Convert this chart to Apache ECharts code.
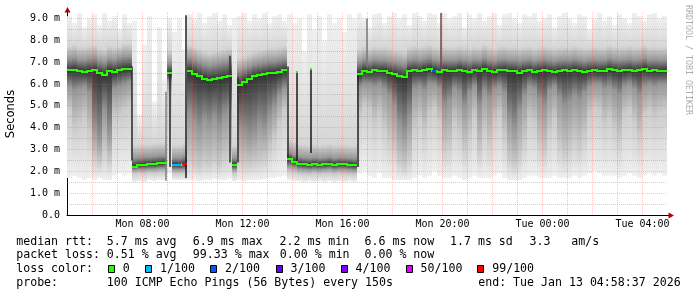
<!DOCTYPE html>
<html><head><meta charset="utf-8">
<script src="https://cdn.jsdelivr.net/npm/echarts@6/dist/echarts.min.js"></script>
<style>html,body{margin:0;padding:0;background:#fff}#c{width:697px;height:297px}</style>
</head><body><div id="c"></div>
<script>
// ---- axis / time ----
const X0 = 4.98;          // hours since Mon 00:00 at left edge (04:58)
const STEP = 0.2;         // hours per sample
const X1 = X0 + 24;
const Y_MAX = 9.3;
const xTickValues = [8, 12, 16, 20, 24, 28];
const xTickLabels = ['Mon 08:00', 'Mon 12:00', 'Mon 16:00', 'Mon 20:00', 'Tue 00:00', 'Tue 04:00'];
const yTickValues = [0, 1, 2, 3, 4, 5, 6, 7, 8, 9];
const yTickLabels = ['0.0', '1.0 m', '2.0 m', '3.0 m', '4.0 m', '5.0 m', '6.0 m', '7.0 m', '8.0 m', '9.0 m'];
const gridHours = [6, 7, 8, 9, 10, 11, 12, 13, 14, 15, 16, 17, 18, 19, 20, 21, 22, 23, 24, 25, 26, 27, 28];
const gridValues = [0.5, 1, 1.5, 2, 2.5, 3, 3.5, 4, 4.5, 5, 5.5, 6, 6.5, 7, 7.5, 8, 8.5, 9];

// ---- median rtt (ms), one value per 12-minute sample ----
const median = [
  6.62, 6.65, 6.6, 6.55, 6.6, 6.62, 6.5, 6.42, 6.6, 6.55, 6.62, 6.68, 6.7,
  2.22, 2.28, 2.3, 2.32, 2.34, 2.36, 2.38,
  6.5,
  2.3, 2.28, 2.32,
  6.6, 6.45, 6.35, 6.25, 6.2, 6.22, 6.28, 6.3, 6.35,
  2.3,
  5.95, 6.1, 6.25, 6.35, 6.4, 6.45, 6.5, 6.5, 6.55, 6.62,
  2.55, 2.45, 2.35, 2.32, 2.3, 2.33, 2.3, 2.32, 2.35, 2.3, 2.33, 2.32, 2.3, 2.28,
  6.45, 6.6, 6.55, 6.62, 6.58, 6.6, 6.52, 6.45, 6.38, 6.32,
  6.6, 6.62, 6.58, 6.65, 6.7, 6.6, 6.55, 6.62, 6.58, 6.6,
  6.66, 6.6, 6.55, 6.62, 6.6, 6.68, 6.6, 6.55, 6.62, 6.65,
  6.6, 6.58, 6.52, 6.6, 6.62, 6.55, 6.6, 6.64, 6.58, 6.55,
  6.6, 6.62, 6.6, 6.65, 6.6, 6.55, 6.6, 6.62, 6.58, 6.6,
  6.68, 6.62, 6.58, 6.62, 6.65, 6.6, 6.62, 6.7, 6.6, 6.62,
  6.58, 6.6
];
// smoke: ping distribution per sample (lowest, 10%, 25%, 75%, highest)
const p75 = [
  7.15, 7.2, 7.1, 7.1, 7.15, 7.2, 7.05, 7.0, 7.15, 7.1, 7.2, 7.25, 7.25,
  2.6, 2.62, 2.65, 2.65, 2.68, 2.7, 2.7,
  6.95,
  2.6, 2.6, 2.65,
  7.2, 7.1, 7.0, 6.9, 6.85, 6.9, 6.95, 7.0, 7.05,
  2.6,
  6.6, 6.7, 6.8, 6.9, 6.95, 7.0, 7.05, 7.05, 7.1, 7.15,
  2.85, 2.75, 2.65, 2.62, 2.6, 2.63, 2.6, 2.62, 2.65, 2.6, 2.63, 2.62, 2.6, 2.58,
  7.0, 7.1, 7.05, 7.12, 7.1, 7.1, 7.05, 7.0, 6.95, 6.9,
  7.1, 7.15, 7.1, 7.15, 7.2, 7.1, 7.05, 7.12, 7.1, 7.1,
  7.15, 7.1, 7.05, 7.12, 7.1, 7.2, 7.1, 7.05, 7.12, 7.15,
  7.1, 7.1, 7.05, 7.1, 7.12, 7.05, 7.1, 7.15, 7.1, 7.05,
  7.1, 7.12, 7.1, 7.15, 7.1, 7.05, 7.1, 7.12, 7.1, 7.1,
  7.18, 7.12, 7.1, 7.12, 7.15, 7.1, 7.12, 7.2, 7.1, 7.12,
  7.1, 7.1
];
const pHi = [
  9.1, 8.8, 9.25, 8.6, 9.0, 9.2, 8.7, 9.25, 8.9, 9.1, 8.5, 9.2, 8.8,
  8.9, 4.6, 7.8, 9.1, 5.2, 8.6, 6.2,
  9.0,
  8.4, 9.0, 7.6,
  9.2, 9.0, 9.25, 8.8, 9.1, 9.25, 8.9, 9.2, 8.7,
  9.0,
  9.1, 9.25, 8.9, 9.2, 9.0, 9.25, 8.8, 9.1, 9.2, 8.9,
  9.2, 8.8, 9.0, 7.5, 9.2, 8.5, 9.1, 8.0, 9.2, 8.8, 9.0, 8.4, 9.2, 9.0,
  9.25, 9.0, 8.6, 9.2, 9.25, 8.8, 9.1, 9.25, 9.0, 9.2,
  8.7, 9.25, 9.1, 8.9, 9.25, 9.2, 8.8, 9.25, 9.0, 9.1,
  9.25, 8.6, 9.2, 9.0, 9.25, 8.9, 9.1, 9.25, 8.7, 9.2,
  9.25, 9.0, 8.8, 9.2, 9.1, 9.25, 8.9, 9.0, 9.2, 8.6,
  9.1, 9.25, 9.0, 8.8, 9.2, 9.1, 8.5, 9.0, 9.25, 8.9,
  9.1, 8.7, 9.2, 9.0, 8.8, 9.25, 9.1, 8.9, 9.2, 9.25,
  9.0, 9.1
];
const p25 = [
  5.9, 5.7, 5.8, 5.9, 5.6, 4.0, 3.5, 4.8, 3.8, 5.8, 5.9, 6.0, 6.1,
  2.08, 2.1, 2.1, 2.12, 2.12, 2.15, 2.15,
  6.15,
  2.1, 2.1, 2.1,
  4.6, 4.3, 4.0, 4.4, 4.2, 4.5, 4.1, 4.6, 4.8,
  2.1,
  4.0, 3.8, 3.6, 3.8, 4.2, 4.0, 4.6, 5.0, 5.5, 5.8,
  2.25, 2.2, 2.12, 2.1, 2.08, 2.1, 2.08, 2.1, 2.12, 2.08, 2.1, 2.1, 2.08, 2.06,
  5.9, 6.0, 6.0, 5.9, 6.0, 5.8, 5.5, 5.0, 4.2, 3.8,
  4.5, 5.8, 5.9, 5.7, 6.0, 6.0, 5.8, 5.0, 5.3, 5.8,
  5.6, 5.0, 5.6, 5.9, 5.0, 5.7, 5.4, 5.8, 5.9, 5.6,
  4.4, 4.0, 4.8, 5.5, 5.9, 5.8, 5.3, 5.0, 5.7, 5.9,
  5.4, 5.0, 5.2, 5.5, 5.3, 5.6, 5.9, 6.0, 6.0, 5.8,
  5.9, 5.7, 5.5, 5.9, 6.0, 5.8, 5.5, 5.9, 6.0, 5.9,
  6.0, 6.0
];
const p10 = [
  4.8, 4.0, 4.2, 4.5, 3.8, 2.6, 2.4, 3.0, 2.5, 4.5, 4.6, 4.8, 5.0,
  1.9, 1.92, 1.9, 1.95, 1.93, 1.95, 1.95,
  5.5,
  1.9, 1.9, 1.92,
  2.5, 2.3, 2.2, 2.4, 2.3, 2.5, 2.3, 2.6, 2.7,
  1.9,
  2.4, 2.3, 2.3, 2.4, 2.5, 2.6, 3.0, 3.5, 4.2, 4.8,
  2.0, 1.95, 1.9, 1.88, 1.87, 1.9, 1.87, 1.9, 1.9, 1.87, 1.9, 1.88, 1.87, 1.85,
  4.5, 5.0, 4.8, 4.2, 4.6, 4.0, 3.4, 3.0, 2.4, 2.2,
  2.6, 4.0, 4.4, 3.8, 4.6, 4.9, 4.3, 3.0, 3.2, 4.2,
  3.8, 3.0, 3.6, 4.5, 2.9, 3.9, 3.3, 4.2, 4.6, 3.6,
  2.5, 2.3, 2.7, 3.4, 4.4, 4.2, 3.2, 2.9, 3.8, 4.4,
  3.2, 2.8, 3.0, 3.4, 3.1, 3.6, 4.6, 4.9, 4.8, 4.2,
  4.5, 4.0, 3.5, 4.6, 4.8, 4.3, 3.6, 4.6, 4.8, 4.5,
  4.7, 4.8
];
const pLo = [
  1.7, 1.8, 1.7, 1.6, 1.7, 1.6, 1.7, 1.6, 1.6, 1.8, 1.9, 1.8, 1.9,
  1.5, 1.55, 1.5, 1.6, 1.55, 1.6, 1.6,
  1.9,
  1.6, 1.6, 1.6,
  1.6, 1.6, 1.55, 1.6, 1.6, 1.65, 1.6, 1.6, 1.65,
  1.55,
  1.6, 1.55, 1.6, 1.6, 1.6, 1.65, 1.7, 1.7, 1.75, 1.8,
  1.6, 1.55, 1.55, 1.5, 1.55, 1.5, 1.55, 1.5, 1.55, 1.5, 1.55, 1.5, 1.55, 1.5,
  1.9, 2.0, 1.8, 1.7, 1.9, 1.7, 1.7, 1.6, 1.6, 1.6,
  1.6, 1.7, 1.8, 1.7, 1.8, 2.0, 1.8, 1.7, 1.7, 1.8,
  1.7, 1.6, 1.7, 1.8, 1.7, 1.7, 1.7, 1.8, 1.9, 1.7,
  1.6, 1.6, 1.6, 1.7, 1.8, 1.8, 1.7, 1.7, 1.7, 1.8,
  1.7, 1.7, 1.7, 1.8, 1.7, 1.8, 1.9, 2.0, 1.9, 1.8,
  1.8, 1.8, 1.7, 1.8, 1.9, 1.8, 1.7, 1.8, 1.9, 1.8,
  1.9, 1.8
];
// samples with packet loss: [sample index, loss colour index]
const lossMarks = [[21, 1], [22, 1], [23, 6], [73, 2]];
// narrow dark smoke columns: [hour, from, to, grey level]
const spikes = [
  [7.59, 2.5, 6.8, 40], [8.93, 1.57, 5.65, 130], [9.10, 2.2, 6.5, 35], [9.75, 1.7, 9.15, 30],
  [11.49, 2.4, 7.3, 50], [11.80, 2.4, 6.3, 50], [13.81, 2.5, 6.8, 45], [14.18, 2.4, 6.56, 25],
  [14.74, 2.84, 6.7, 25], [16.63, 2.2, 6.4, 35], [16.99, 6.8, 9.0, 120], [19.94, 6.65, 9.25, 80]
];
const spikeMedians = [[14.18, 6.56], [14.74, 6.7]];

const lossColors = ['#26ff00', '#00b8ff', '#0059ff', '#5e00ff', '#7e00ff', '#dd00ff', '#ff0000'];
const lossLabels = ['0', '1/100', '2/100', '3/100', '4/100', '50/100', '99/100'];

const legendRows = [
  { y: 241.7, items: [[16.2, 'median rtt:'], [106.8, '5.7 ms avg'], [192.8, '6.9 ms max'], [279.5, '2.2 ms min'], [364.5, '6.6 ms now'], [450, '1.7 ms sd'], [529.5, '3.3'], [571.2, 'am/s']] },
  { y: 255.3, items: [[16.2, 'packet loss:'], [106.8, '0.51 % avg'], [192.8, '99.33 % max'], [279.8, '0.00 % min'], [364.5, '0.00 % now']] },
  { y: 269, items: [[16.2, 'loss color:']] },
  { y: 282.7, items: [[16.2, 'probe:'], [106.8, '100 ICMP Echo Pings (56 Bytes) every 150s'], [478.2, 'end: Tue Jan 13 04:58:37 2026']] }
];
const lossBoxX = [108.5, 145.5, 210.5, 276.5, 341.5, 406.5, 477.5];
const lossTextX = [122.8, 160, 225, 290.5, 355.5, 420.5, 492.2];

// ---- build ----
const T = i => X0 + i * STEP;
const lossIdx = median.map(() => 0);
lossMarks.forEach(([i, c]) => { lossIdx[i] = c; });
const smokeData = median.map((m, i) => [T(i), pLo[i], p10[i], p25[i], m, p75[i], pHi[i]]);
const medData = median.map((m, i) => [T(i), m, i + 1 < median.length ? median[i + 1] : m, lossIdx[i]]);

const gray = g => { g = Math.round(g); return 'rgb(' + g + ',' + g + ',' + g + ')'; };
const MAJOR = 'rgba(240,90,90,0.32)';
const MINOR = 'rgba(120,120,120,0.35)';

function renderSmoke(params, api) {
  const t = api.value(0), L = api.value(1), P10 = api.value(2), P25 = api.value(3),
        M = api.value(4), P75 = api.value(5), H = api.value(6);
  const xa = Math.round(api.coord([t, 0])[0]), xb = Math.round(api.coord([t + STEP, 0])[0]);
  const yt = api.coord([t, H])[1], yb = api.coord([t, L])[1];
  const off = v => Math.min(1, Math.max(0, (H - v) / (H - L)));
  const up = P75 + Math.min(0.6, 0.4 * (H - P75));
  return {
    type: 'rect', shape: { x: xa, y: yt, width: xb - xa, height: yb - yt },
    style: { fill: new echarts.graphic.LinearGradient(0, 0, 0, 1, [
      { offset: 0, color: gray(240) }, { offset: off(up), color: gray(214) },
      { offset: off(P75), color: gray(150) }, { offset: off(M), color: gray(50) },
      { offset: off(P25), color: gray(150) }, { offset: off(P10), color: gray(204) },
      { offset: 1, color: gray(240) }]) }
  };
}
function renderSpike(params, api) {
  const t = api.value(0);
  const x = api.coord([t, 0])[0];
  const y1 = api.coord([t, api.value(2)])[1], y0 = api.coord([t, api.value(1)])[1];
  return { type: 'rect', shape: { x: Math.round(x) - 0.75, y: y1, width: 1.5, height: y0 - y1 }, style: { fill: gray(api.value(3)) } };
}
function renderSpikeMed(params, api) {
  const p = api.coord([api.value(0), api.value(1)]);
  return { type: 'rect', shape: { x: Math.round(p[0]) - 1, y: Math.round(p[1]) - 1, width: 2, height: 2 }, style: { fill: lossColors[0] } };
}
function renderMedian(params, api) {
  const t = api.value(0), m = api.value(1), n = api.value(2), c = lossColors[api.value(3)];
  const xa = Math.round(api.coord([t, 0])[0]), xb = Math.round(api.coord([t + STEP, 0])[0]);
  const ym = Math.round(api.coord([t, m])[1]), yn = Math.round(api.coord([t, n])[1]);
  const children = [{ type: 'rect', shape: { x: xa, y: ym - 1, width: xb - xa, height: 2 }, style: { fill: c } }];
  if (Math.abs(n - m) < 1.2 && ym !== yn) {
    children.push({ type: 'rect', shape: { x: xb - 1, y: Math.min(ym, yn) - 1, width: 2, height: Math.abs(yn - ym) + 2 }, style: { fill: lossColors[0] } });
  }
  return { type: 'group', children };
}
function renderVGrid(params, api) {
  const h = api.value(0);
  const x = Math.floor(api.coord([h, 0])[0] + 1e-6) + 0.5;
  const y0 = api.coord([h, 0])[1], y1 = api.coord([h, Y_MAX])[1];
  return { type: 'line', shape: { x1: x, y1: y0, x2: x, y2: y1 }, style: { stroke: h % 2 === 0 ? MAJOR : MINOR, lineWidth: 1, lineDash: [1, 1] } };
}
function renderHGrid(params, api) {
  const v = api.value(1);
  const y = Math.floor(api.coord([X0, v])[1]) + 0.5;
  const xa = api.coord([X0, v])[0], xb = api.coord([X1, v])[0];
  return { type: 'line', shape: { x1: xa, y1: y, x2: xb, y2: y }, style: { stroke: Number.isInteger(v) ? MAJOR : MINOR, lineWidth: 1, lineDash: [1, 1] } };
}
function renderArrow(params, api) {
  const p = api.coord([api.value(0), api.value(1)]);
  const ARROW = '#b00000';
  if (api.value(2) === 0) {
    const y = Math.round(p[1]) + 0.5;
    return { type: 'group', children: [
      { type: 'line', shape: { x1: p[0], y1: y, x2: p[0] + 2, y2: y }, style: { stroke: '#000', lineWidth: 1 } },
      { type: 'polygon', shape: { points: [[p[0] + 1.5, y - 3], [p[0] + 7, y], [p[0] + 1.5, y + 3]] }, style: { fill: ARROW } }] };
  }
  const x = Math.round(p[0]) + 0.5;
  return { type: 'polygon', shape: { points: [[x - 3, p[1] + 0.5], [x, p[1] - 5], [x + 3, p[1] + 0.5]] }, style: { fill: ARROW } };
}

const MONO = '"DejaVu Sans Mono"';
const graphics = [];
legendRows.forEach(r => r.items.forEach(([x, s]) => graphics.push({
  type: 'text', x: x, y: r.y, silent: true,
  style: { text: s, fill: '#000', font: '11.6px ' + MONO, align: 'left', verticalAlign: 'middle' }
})));
lossColors.forEach((c, k) => {
  graphics.push({ type: 'rect', silent: true, shape: { x: lossBoxX[k], y: 265.5, width: 6, height: 7 }, style: { fill: c, stroke: '#000', lineWidth: 1 } });
  graphics.push({ type: 'text', silent: true, x: lossTextX[k], y: 269, style: { text: lossLabels[k], fill: '#000', font: '11.6px ' + MONO, align: 'left', verticalAlign: 'middle' } });
});
graphics.push({ type: 'text', silent: true, x: 11, y: 114, rotation: Math.PI / 2,
  style: { text: 'Seconds', fill: '#000', font: '11.5px "DejaVu Sans"', align: 'center', verticalAlign: 'middle' } });
graphics.push({ type: 'text', silent: true, x: 688.5, y: 60, rotation: -Math.PI / 2,
  style: { text: 'RRDTOOL / TOBI OETIKER', fill: '#adadad', font: '8.3px ' + MONO, align: 'center', verticalAlign: 'middle' } });

const chart = echarts.init(document.getElementById('c'));
chart.setOption({
  animation: false,
  backgroundColor: '#fff',
  grid: { left: 67, right: 30, top: 12, bottom: 82, containLabel: false },
  xAxis: {
    type: 'value', min: X0, max: X1,
    axisLine: { show: true, onZero: false, lineStyle: { color: '#000', width: 1 } },
    axisTick: { show: false }, splitLine: { show: false },
    axisLabel: {
      customValues: xTickValues, margin: 4, color: '#000', fontFamily: 'DejaVu Sans Mono', fontSize: 10,
      formatter: v => { const k = xTickValues.findIndex(t => Math.abs(t - v) < 1e-6); return k < 0 ? '' : xTickLabels[k]; }
    }
  },
  yAxis: {
    type: 'value', min: 0, max: Y_MAX,
    axisLine: { show: true, onZero: false, lineStyle: { color: '#000', width: 1 } },
    axisTick: { show: false }, splitLine: { show: false },
    axisLabel: {
      customValues: yTickValues, margin: 7, color: '#000', fontFamily: 'DejaVu Sans Mono', fontSize: 10,
      formatter: v => { const k = yTickValues.findIndex(t => Math.abs(t - v) < 1e-6); return k < 0 ? '' : yTickLabels[k]; }
    }
  },
  series: [
    { type: 'custom', name: 'smoke', z: 1, clip: true, renderItem: renderSmoke, data: smokeData, encode: { x: 0, y: 4 }, silent: true },
    { type: 'custom', name: 'vgrid', z: 2, renderItem: renderVGrid, data: gridHours.map(h => [h, 0]), encode: { x: 0, y: 1 }, silent: true },
    { type: 'custom', name: 'hgrid', z: 2, renderItem: renderHGrid, data: gridValues.map(v => [X0, v]), encode: { x: 0, y: 1 }, silent: true },
    { type: 'custom', name: 'spikes', z: 3, clip: true, renderItem: renderSpike, data: spikes, encode: { x: 0, y: 2 }, silent: true },
    { type: 'custom', name: 'median', z: 4, clip: true, renderItem: renderMedian, data: medData, encode: { x: 0, y: 1 }, silent: true },
    { type: 'custom', name: 'spikeMed', z: 4, renderItem: renderSpikeMed, data: spikeMedians, encode: { x: 0, y: 1 }, silent: true },
    { type: 'custom', name: 'arrows', z: 5, renderItem: renderArrow, data: [[X1, 0, 0], [X0, Y_MAX, 1]], encode: { x: 0, y: 1 }, silent: true }
  ],
  graphic: { elements: graphics }
});
</script></body></html>
